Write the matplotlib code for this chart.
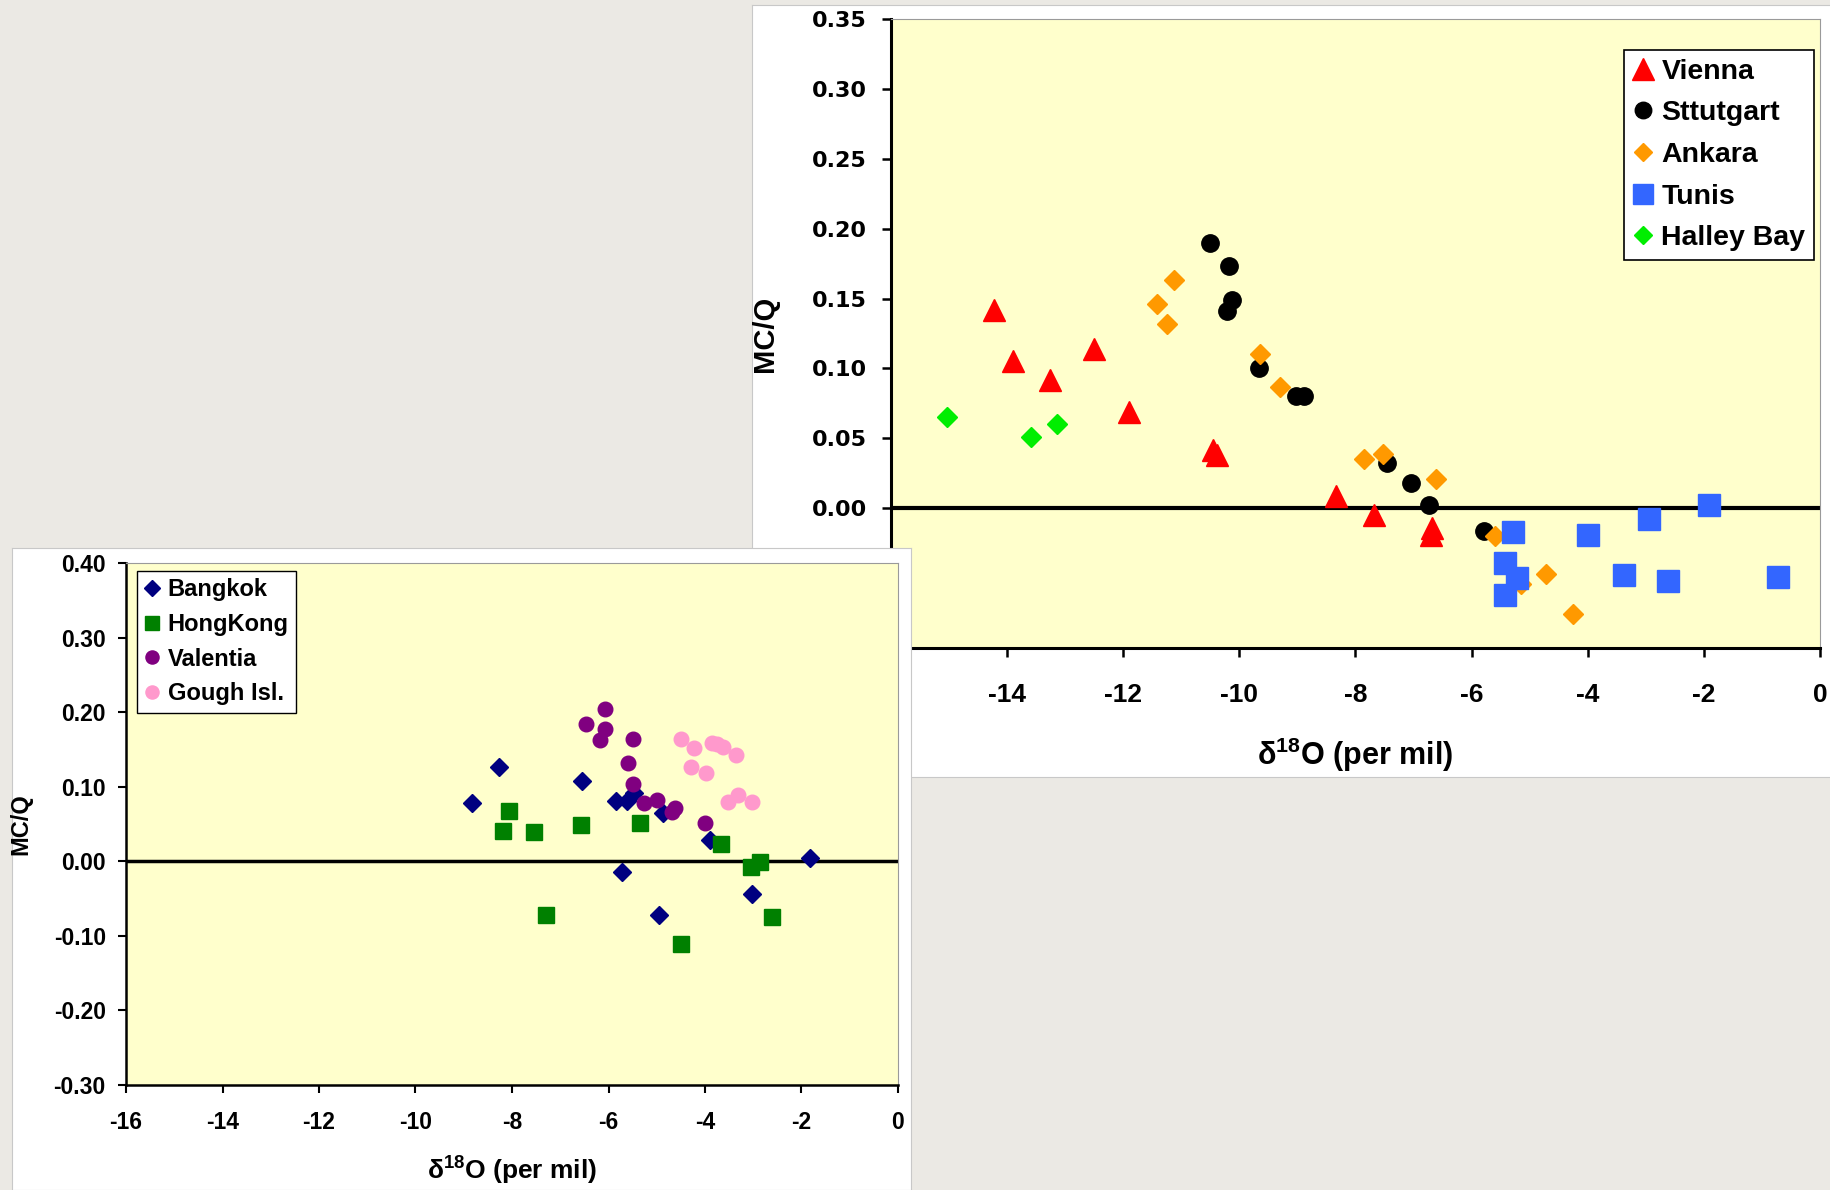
import numpy as np
import matplotlib
matplotlib.use('Agg')
import matplotlib.pyplot as plt

plt.rcParams['font.family'] = ['Liberation Sans', 'DejaVu Sans']
plt.rcParams['mathtext.default'] = 'regular'

# top chart: delta18O vs MC/Q
vienna_x = [-14.22, -13.90, -13.26, -12.51, -11.90, -10.45, -10.39, -8.33, -7.68, -6.69, -6.70]
vienna_y = [0.142, 0.105, 0.092, 0.114, 0.069, 0.042, 0.038, 0.009, -0.005, -0.014, -0.019]
stuttgart_x = [-10.50, -10.18, -10.13, -10.21, -9.66, -9.03, -8.89, -7.46, -7.05, -6.73, -5.78]
stuttgart_y = [0.190, 0.173, 0.149, 0.141, 0.100, 0.080, 0.080, 0.032, 0.018, 0.002, -0.016]
ankara_x = [-11.13, -11.42, -11.25, -9.64, -9.30, -7.85, -7.52, -6.61, -5.59, -5.15, -4.72, -4.26]
ankara_y = [0.163, 0.146, 0.132, 0.110, 0.087, 0.035, 0.039, 0.021, -0.020, -0.054, -0.047, -0.076]
tunis_x = [-5.28, -5.42, -5.21, -5.42, -4.00, -3.38, -2.95, -2.61, -1.92, -0.72]
tunis_y = [-0.017, -0.039, -0.050, -0.062, -0.019, -0.048, -0.008, -0.052, 0.002, -0.049]
halley_x = [-15.03, -13.59, -13.14]
halley_y = [0.065, 0.051, 0.060]

# bottom chart
bangkok_x = [-8.82, -8.27, -6.55, -5.84, -5.62, -5.47, -4.87, -3.89, -1.82, -5.72, -4.96, -3.02]
bangkok_y = [0.078, 0.126, 0.108, 0.081, 0.081, 0.091, 0.065, 0.028, 0.004, -0.015, -0.072, -0.044]
hongkong_x = [-8.07, -8.18, -7.54, -6.56, -5.34, -3.67, -3.04, -2.87, -7.30, -4.49, -2.62]
hongkong_y = [0.068, 0.041, 0.039, 0.049, 0.052, 0.023, -0.008, -0.001, -0.072, -0.111, -0.075]
valentia_x = [-6.08, -6.47, -6.08, -6.17, -5.49, -5.60, -5.50, -5.27, -4.99, -4.62, -4.68, -3.99]
valentia_y = [0.204, 0.184, 0.177, 0.162, 0.164, 0.132, 0.104, 0.078, 0.082, 0.071, 0.066, 0.051]
gough_x = [-4.49, -4.22, -3.86, -3.75, -3.63, -3.35, -4.29, -3.98, -3.53, -3.31, -3.03]
gough_y = [0.164, 0.152, 0.158, 0.157, 0.153, 0.142, 0.127, 0.118, 0.079, 0.089, 0.079]

top_yticks = [-0.10, -0.05, 0.00, 0.05, 0.10, 0.15, 0.20, 0.25, 0.30, 0.35]
bot_yticks = [-0.30, -0.20, -0.10, 0.00, 0.10, 0.20, 0.30, 0.40]
xticks = [-16, -14, -12, -10, -8, -6, -4, -2, 0]

fig = plt.figure(figsize=(18.31, 11.90), dpi=100, facecolor='#ebe9e4')


def panel(rect, z):
    bg = fig.add_axes(rect, zorder=z)
    bg.set_xticks([])
    bg.set_yticks([])
    bg.set_facecolor('white')
    for s in bg.spines.values():
        s.set_color('#c8c8c8')
        s.set_linewidth(0.8)
    return bg


def style_axes(ax, spine_w):
    ax.set_facecolor('#FFFFCC')
    for side in ['left', 'bottom']:
        ax.spines[side].set_color('black')
        ax.spines[side].set_linewidth(spine_w)
    for side in ['top', 'right']:
        ax.spines[side].set_color('#9a9a9a')
        ax.spines[side].set_linewidth(0.8)


# ---- top chart ----
panel([752 / 1831, 1 - 777 / 1190, 1079 / 1831, 772 / 1190], 0)
ax1 = fig.add_axes([891 / 1831, 1 - 648 / 1190, 929 / 1831, 629 / 1190], zorder=1)
style_axes(ax1, 2.2)
ax1.axhline(0, color='black', lw=3, zorder=2)
ax1.plot(vienna_x, vienna_y, ls='none', marker='^', ms=16, color='#FF0000', label='Vienna', zorder=3)
ax1.plot(stuttgart_x, stuttgart_y, ls='none', marker='o', ms=12.5, color='black', label='Sttutgart', zorder=3)
ax1.plot(ankara_x, ankara_y, ls='none', marker='D', ms=10, color='#FF9900', label='Ankara', zorder=3)
ax1.plot(tunis_x, tunis_y, ls='none', marker='s', ms=15.5, color='#3366FF', label='Tunis', zorder=3)
ax1.plot(halley_x, halley_y, ls='none', marker='D', ms=10, color='#00EE00', label='Halley Bay', zorder=3)
ax1.set_xlim(-16, 0)
ax1.set_ylim(-0.10, 0.35)
ax1.set_xticks(xticks, labels=[str(v) for v in xticks], fontsize=19, fontweight='bold')
ax1.set_yticks(top_yticks, labels=['%.2f' % v for v in top_yticks], fontsize=16,
               fontweight='bold', fontfamily='DejaVu Sans')
ax1.tick_params(axis='both', direction='out', length=6.5, width=1.8)
ax1.tick_params(axis='x', pad=19)
ax1.tick_params(axis='y', pad=11)
ax1.text(-0.1356, 0.5, 'MC/Q', transform=ax1.transAxes, rotation=90, ha='center', va='center',
         fontsize=21, fontweight='bold')
ax1.text(0.5, -0.170, 'δ$^{18}$O (per mil)', transform=ax1.transAxes, ha='center', va='center',
         fontsize=22, fontweight='bold')
leg1 = ax1.legend(loc='upper right', bbox_to_anchor=(0.9935, 0.9507), borderaxespad=0,
                  prop={'weight': 'bold', 'size': 20.5}, fancybox=False, edgecolor='black',
                  framealpha=1, borderpad=0.3, labelspacing=0.55, handlelength=0.7,
                  handletextpad=0.3, markerscale=0.95)
leg1.get_frame().set_linewidth(1.2)

# ---- bottom chart ----
panel([12 / 1831, 0, 899 / 1831, 642 / 1190], 2)
ax2 = fig.add_axes([126 / 1831, 1 - 1085 / 1190, 772 / 1831, 522 / 1190], zorder=3)
style_axes(ax2, 1.8)
ax2.axhline(0, color='black', lw=2.5, zorder=2)
ax2.plot(bangkok_x, bangkok_y, ls='none', marker='D', ms=9.5, color='#000080', label='Bangkok', zorder=3)
ax2.plot(hongkong_x, hongkong_y, ls='none', marker='s', ms=11, color='#008000', label='HongKong', zorder=3)
ax2.plot(valentia_x, valentia_y, ls='none', marker='o', ms=10.5, color='#800080', label='Valentia', zorder=3)
ax2.plot(gough_x, gough_y, ls='none', marker='o', ms=10.5, color='#FF99CC', label='Gough Isl.', zorder=3)
ax2.set_xlim(-16, 0)
ax2.set_ylim(-0.30, 0.40)
ax2.set_xticks(xticks, labels=[str(v) for v in xticks], fontsize=16.5, fontweight='bold')
ax2.set_yticks(bot_yticks, labels=['%.2f' % v for v in bot_yticks], fontsize=16.5, fontweight='bold')
ax2.tick_params(axis='both', direction='out', length=5.5, width=1.5)
ax2.tick_params(axis='x', pad=13)
ax2.tick_params(axis='y', pad=9)
ax2.text(-0.136, 0.5, 'MC/Q', transform=ax2.transAxes, rotation=90, ha='center', va='center',
         fontsize=17, fontweight='bold')
ax2.text(0.5, -0.165, 'δ$^{18}$O (per mil)', transform=ax2.transAxes, ha='center', va='center',
         fontsize=19, fontweight='bold')
leg2 = ax2.legend(loc='upper left', bbox_to_anchor=(0.0143, 0.9847), borderaxespad=0,
                  prop={'weight': 'bold', 'size': 17}, fancybox=False, edgecolor='black',
                  framealpha=1, borderpad=0.3, labelspacing=0.5, handlelength=0.7,
                  handletextpad=0.3, markerscale=0.9)
leg2.get_frame().set_linewidth(1.0)

fig.savefig('out.png', dpi=100, facecolor=fig.get_facecolor())
